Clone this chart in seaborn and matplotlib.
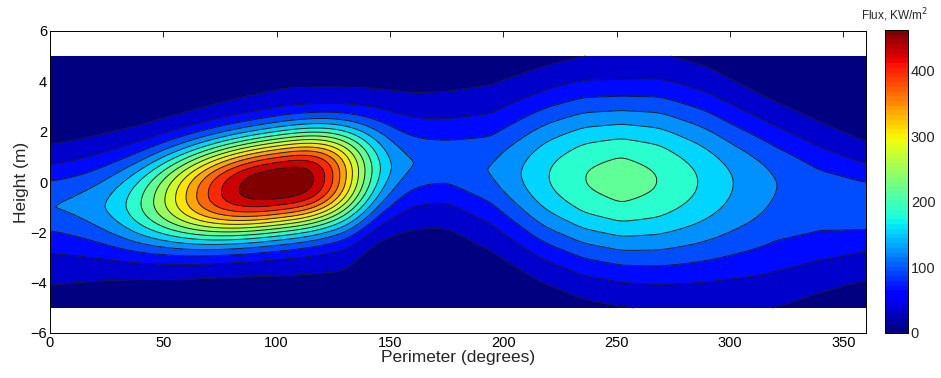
import numpy as np
import matplotlib
matplotlib.use("Agg")
import matplotlib.pyplot as plt
import seaborn as sns
from matplotlib.colors import ListedColormap, Normalize
from matplotlib.cm import ScalarMappable

# ---------------- data ----------------
# broad ridge running along the perimeter: peak flux (KW/m^2) vs position (deg)
ridge_x = [0, 20, 40, 80, 104, 130, 145, 160, 175, 194.5, 207.8, 219.9, 235.7,
           252, 268.3, 286, 301.5, 320, 340, 360]
ridge_flux = [111, 112, 113, 114, 114, 113, 111, 108, 108, 115.5, 144, 173,
              202, 216, 202, 173, 144, 115.5, 103, 108]
# ridge shape: height of maximum (m), upward/downward spread (m), exponents
shape_x = [0, 20, 40, 60, 80, 104, 130, 145, 160, 175, 195, 215, 235, 252,
           270, 290, 320, 340, 360]
ridge_center = [-1.0, -1.0, -0.9, -0.65, -0.4, 0.0, 0.35, 0.55, 0.75, 0.8,
                0.45, 0.25, 0.15, 0.1, 0.05, 0.0, -0.1, -0.6, -1.0]
spread_up = [2.10, 2.35, 2.50, 2.70, 2.94, 3.06, 2.77, 2.62, 2.34, 2.33, 2.82,
             3.25, 3.49, 3.46, 3.63, 3.48, 2.81, 2.64, 2.23]
spread_down = [2.47, 2.35, 2.39, 2.54, 2.67, 3.02, 3.23, 2.27, 2.18, 2.20,
               2.66, 3.17, 3.45, 3.56, 3.70, 3.86, 4.17, 3.35, 2.41]
exp_up = [1.8, 1.8, 1.8, 1.8, 1.8, 1.8, 1.8, 1.8, 1.6, 1.5, 1.7, 2.0,
          2.0, 2.0, 2.0, 2.0, 2.0, 1.9, 1.8]
exp_down = [1.3, 1.5, 1.8, 1.8, 1.8, 1.8, 1.8, 1.8, 1.6, 1.5, 1.7, 2.0,
            2.0, 2.0, 2.0, 2.0, 2.0, 1.9, 1.5]

# hot spot near 100 degrees
spot_flux = 342           # above the ridge
spot_x, spot_y = 102.5, -0.05
spot_tilt = 0.011         # m per degree
spot_spread_x = [55.4, 35.8]   # left, right (degrees)
spot_exp_x = [2.5, 2.8]
spot_spread_y = 1.95
spot_exp_y = 2.5

flux_max = 462
n_bands = 16
x_ticks = [0, 50, 100, 150, 200, 250, 300, 350]
y_ticks = [-6, -4, -2, 0, 2, 4, 6]
cbar_ticks = [0, 100, 200, 300, 400]

# ---------------- build the field ----------------
xg = np.linspace(0, 360, 721)
yg = np.linspace(-5, 5, 501)


def along(xk, vk, sigma):
    v = np.interp(xg, xk, vk)
    step = xg[1] - xg[0]
    n = int(4 * sigma / step)
    k = np.exp(-0.5 * (np.arange(-n, n + 1) * step / sigma) ** 2)
    k /= k.sum()
    vp = np.pad(v, n, mode="edge")
    return np.convolve(vp, k, mode="valid")


P = along(ridge_x, ridge_flux, 2.0)
C = along(shape_x, ridge_center, 3.0)
WU = along(shape_x, spread_up, 3.0)
WD = along(shape_x, spread_down, 3.0)
EU = along(shape_x, exp_up, 4.0)
ED = along(shape_x, exp_down, 4.0)

X, Y = np.meshgrid(xg, yg)
above = Y >= C[None, :]
W = np.where(above, WU[None, :], WD[None, :])
E = np.where(above, EU[None, :], ED[None, :])
U = np.abs(Y - C[None, :]) / W
Z = P[None, :] * np.exp(-U ** E)

dx = X - spot_x
dy = Y - spot_y - spot_tilt * dx
sx = np.where(dx < 0, spot_spread_x[0], spot_spread_x[1])
px = np.where(dx < 0, spot_exp_x[0], spot_exp_x[1])
Z = Z + spot_flux * np.exp(-np.abs(dx / sx) ** px
                           - np.abs(dy / spot_spread_y) ** spot_exp_y)

# ---------------- plot ----------------
sns.set_theme(style="white")
plt.rcParams["font.family"] = ["Liberation Sans", "DejaVu Sans"]

jet = plt.get_cmap("jet")
jet64 = ListedColormap(jet(np.linspace(0, 1, 64)))
step = flux_max / n_bands
levels = [k * step for k in range(n_bands)] + [flux_max * 2]
band_colors = [jet(k / (n_bands - 1)) for k in range(n_bands)]

fig = plt.figure(figsize=(9.41, 3.78), dpi=100)
ax = fig.add_axes([50 / 941, 1 - 333 / 378, 816 / 941, 302 / 378])
ax.contourf(X, Y, Z, levels=levels, colors=band_colors)
ax.contour(X, Y, Z, levels=levels[1:-1], colors="k", linewidths=0.7)

ax.set_xlim(0, 360)
ax.set_ylim(-6, 6)
ax.set_xticks(x_ticks)
ax.set_yticks(y_ticks)
ax.tick_params(direction="in", top=True, right=True, length=4, width=0.6,
               labelsize=10.5, colors="black", pad=2)
for s in ax.spines.values():
    s.set_color("black")
    s.set_linewidth(0.7)
ax.set_xlabel("Perimeter (degrees)", fontsize=12.5, labelpad=0)
ax.set_ylabel("Height (m)", fontsize=12.5, labelpad=1)

cax = fig.add_axes([885 / 941, 1 - 333 / 378, 23 / 941, 303 / 378])
sm = ScalarMappable(norm=Normalize(0, flux_max), cmap=jet64)
cb = fig.colorbar(sm, cax=cax, ticks=cbar_ticks)
cb.outline.set_linewidth(0.7)
cb.outline.set_edgecolor("black")
cax.tick_params(direction="in", length=3, width=0.6, labelsize=10.5,
                left=True, right=True, pad=2)
fig.text(895 / 941, 1 - 15 / 378, "Flux, KW/m$^2$", ha="center", va="center",
         fontsize=8.5, family=["Liberation Sans Narrow", "Liberation Sans", "DejaVu Sans"])

fig.savefig("out.png", dpi=100)
